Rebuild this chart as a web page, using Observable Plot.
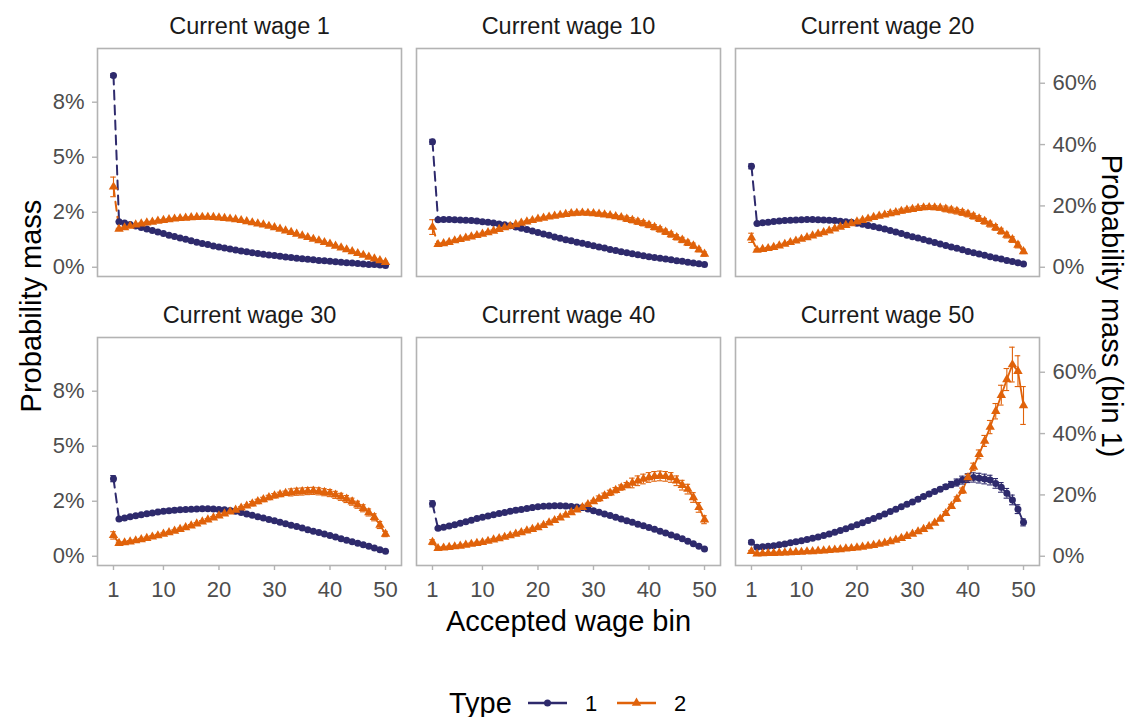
<!DOCTYPE html>
<html>
<head>
<meta charset="utf-8">
<script src="https://cdn.jsdelivr.net/npm/d3@7"></script>
<script src="https://cdn.jsdelivr.net/npm/@observablehq/plot@0.6"></script>
<style>
  body { margin: 0; background: #ffffff; }
  #chart svg { display: block; }
</style>
</head>
<body>
<div id="chart"></div>
<script>
// Transition probabilities (percent) by accepted wage bin 1..50.
// The first entry of each array is bin 1, which is read on the right-hand axis.
const currentWages = [1, 10, 20, 30, 40, 50];
const types = ["1", "2"];

const wage1_type1 = [62.5, 2.07,2.01,1.94,1.88,1.81,1.74,1.67,1.60,1.53, 1.46,1.40,1.33,1.27,1.20,1.14,1.08,1.03,0.97,0.92, 0.87,0.83,0.78,0.74,0.70,0.66,0.63,0.59,0.56,0.53, 0.50,0.47,0.44,0.41,0.39,0.36,0.34,0.31,0.29,0.27, 0.25,0.23,0.21,0.19,0.17,0.15,0.13,0.12,0.10,0.08];
const wage1_type2 = [26.2, 1.74,1.80,1.87,1.93,1.98,2.02,2.06,2.10,2.14, 2.17,2.20,2.22,2.24,2.26,2.27,2.28,2.28,2.27,2.25, 2.23,2.20,2.17,2.13,2.08,2.03,1.98,1.93,1.87,1.81, 1.74,1.66,1.59,1.51,1.43,1.36,1.28,1.21,1.13,1.06, 0.97,0.89,0.80,0.72,0.63,0.55,0.47,0.39,0.31,0.23];
const wage10_type1 = [40.9, 2.16,2.17,2.17,2.16,2.15,2.14,2.12,2.10,2.07, 2.04,2.01,1.97,1.93,1.89,1.83,1.77,1.71,1.65,1.58, 1.51,1.45,1.38,1.32,1.25,1.20,1.14,1.09,1.03,0.98, 0.92,0.87,0.81,0.76,0.71,0.66,0.61,0.57,0.52,0.48, 0.44,0.41,0.37,0.34,0.30,0.27,0.23,0.19,0.16,0.12];
const wage10_type2 = [13.1, 1.04,1.08,1.14,1.21,1.27,1.33,1.39,1.45,1.51, 1.58,1.65,1.73,1.80,1.87,1.94,2.01,2.07,2.13,2.19, 2.24,2.29,2.33,2.37,2.41,2.44,2.46,2.47,2.46,2.44, 2.42,2.39,2.35,2.31,2.26,2.20,2.14,2.07,2.00,1.92, 1.82,1.72,1.61,1.49,1.36,1.24,1.11,0.98,0.80,0.60];
const wage20_type1 = [32.9, 1.99,2.02,2.05,2.08,2.10,2.12,2.14,2.15,2.16, 2.17,2.17,2.16,2.15,2.14,2.12,2.09,2.07,2.04,2.00, 1.95,1.90,1.85,1.80,1.74,1.67,1.60,1.53,1.46,1.39, 1.33,1.26,1.19,1.13,1.06,0.99,0.92,0.86,0.79,0.72, 0.66,0.60,0.54,0.48,0.42,0.37,0.31,0.26,0.20,0.15];
const wage20_type2 = [9.6, 0.78,0.82,0.86,0.91,0.98,1.05,1.13,1.20,1.28, 1.35,1.43,1.51,1.58,1.66,1.75,1.83,1.91,1.99,2.07, 2.14,2.20,2.27,2.33,2.38,2.44,2.49,2.55,2.60,2.64, 2.68,2.71,2.72,2.71,2.69,2.65,2.60,2.55,2.49,2.42, 2.32,2.21,2.09,1.96,1.81,1.64,1.46,1.26,1.01,0.72];
const wage30_type1 = [25.3, 1.69,1.74,1.79,1.84,1.89,1.93,1.97,2.01,2.04, 2.07,2.09,2.11,2.13,2.14,2.15,2.16,2.16,2.15,2.13, 2.11,2.08,2.05,1.99,1.92,1.86,1.80,1.74,1.67,1.61, 1.54,1.48,1.41,1.35,1.28,1.21,1.14,1.08,1.01,0.94, 0.87,0.80,0.73,0.66,0.59,0.52,0.45,0.38,0.30,0.23];
const wage30_type2 = [6.8, 0.59,0.62,0.66,0.71,0.76,0.82,0.88,0.94,1.01, 1.08,1.15,1.23,1.31,1.39,1.48,1.57,1.66,1.75,1.84, 1.93,2.02,2.10,2.20,2.29,2.39,2.49,2.58,2.67,2.75, 2.81,2.86,2.90,2.93,2.94,2.96,2.97,2.95,2.91,2.87, 2.79,2.70,2.60,2.48,2.34,2.18,1.99,1.77,1.42,1.01];
const wage40_type1 = [17.1, 1.27,1.32,1.38,1.43,1.50,1.57,1.64,1.71,1.77, 1.83,1.89,1.94,1.99,2.04,2.09,2.13,2.17,2.21,2.25, 2.27,2.28,2.29,2.29,2.28,2.26,2.24,2.21,2.15,2.07, 2.00,1.92,1.85,1.77,1.69,1.61,1.54,1.46,1.39,1.31, 1.23,1.14,1.06,0.97,0.89,0.79,0.68,0.57,0.45,0.33];
const wage40_type2 = [4.6, 0.36,0.38,0.41,0.44,0.47,0.51,0.55,0.59,0.63, 0.69,0.75,0.81,0.87,0.94,1.01,1.08,1.16,1.23,1.31, 1.41,1.52,1.63,1.75,1.87,1.99,2.11,2.22,2.36,2.49, 2.62,2.75,2.88,3.00,3.12,3.23,3.33,3.43,3.51,3.58, 3.63,3.65,3.63,3.58,3.43,3.23,3.05,2.67,2.22,1.66];
const wage50_type1 = [4.6, 0.41,0.43,0.45,0.48,0.52,0.56,0.61,0.66,0.71, 0.76,0.82,0.88,0.94,1.01,1.09,1.17,1.25,1.34,1.43, 1.52,1.62,1.72,1.82,1.92,2.03,2.14,2.25,2.36,2.47, 2.59,2.71,2.83,2.94,3.05,3.16,3.26,3.35,3.46,3.55, 3.58,3.55,3.51,3.46,3.31,3.13,2.86,2.56,2.14,1.54];
const wage50_type2 = [1.6, 0.11,0.12,0.13,0.14,0.15,0.16,0.17,0.18,0.19, 0.21,0.22,0.24,0.25,0.27,0.29,0.31,0.34,0.36,0.39, 0.42,0.46,0.50,0.55,0.60,0.67,0.74,0.82,0.91,1.01, 1.12,1.23,1.35,1.51,1.69,1.95,2.27,2.60,2.98,3.58, 4.06,4.63,5.24,5.87,6.59,7.32,8.03,8.71,8.41,6.85];

// Standard errors (percent), same layout as above
const wage1_type1_se = [0.6, 0.02,0.02,0.02,0.02,0.02,0.02,0.02,0.02,0.02, 0.02,0.02,0.02,0.02,0.02,0.02,0.02,0.02,0.02,0.02, 0.02,0.02,0.02,0.02,0.02,0.02,0.02,0.02,0.02,0.02, 0.02,0.02,0.02,0.02,0.02,0.02,0.02,0.02,0.02,0.02, 0.02,0.02,0.02,0.02,0.02,0.02,0.02,0.02,0.02,0.02];
const wage1_type2_se = [3.2, 0.03,0.03,0.03,0.03,0.03,0.03,0.03,0.03,0.03, 0.03,0.03,0.03,0.03,0.03,0.03,0.03,0.03,0.03,0.03, 0.03,0.03,0.03,0.03,0.03,0.05,0.05,0.05,0.05,0.05, 0.05,0.05,0.05,0.05,0.05,0.05,0.05,0.05,0.05,0.05, 0.05,0.05,0.05,0.05,0.05,0.05,0.05,0.05,0.05,0.05];
const wage10_type1_se = [0.8, 0.02,0.02,0.02,0.02,0.02,0.02,0.02,0.02,0.02, 0.02,0.02,0.02,0.02,0.02,0.02,0.02,0.02,0.02,0.02, 0.02,0.02,0.02,0.02,0.02,0.02,0.02,0.02,0.02,0.02, 0.03,0.03,0.03,0.03,0.03,0.03,0.03,0.03,0.03,0.03, 0.03,0.03,0.03,0.03,0.03,0.03,0.03,0.03,0.03,0.03];
const wage10_type2_se = [2.4, 0.04,0.04,0.04,0.04,0.04,0.04,0.04,0.04,0.04, 0.04,0.04,0.04,0.04,0.04,0.04,0.04,0.04,0.04,0.04, 0.04,0.04,0.04,0.04,0.04,0.08,0.08,0.08,0.08,0.08, 0.08,0.08,0.08,0.08,0.08,0.12,0.12,0.12,0.12,0.12, 0.12,0.12,0.12,0.12,0.12,0.12,0.12,0.12,0.10,0.10];
const wage20_type1_se = [0.8, 0.03,0.03,0.03,0.03,0.03,0.03,0.03,0.03,0.03, 0.03,0.03,0.03,0.03,0.03,0.03,0.03,0.03,0.03,0.03, 0.03,0.03,0.03,0.03,0.03,0.03,0.03,0.03,0.03,0.03, 0.03,0.03,0.03,0.03,0.03,0.03,0.03,0.03,0.03,0.03, 0.03,0.03,0.03,0.03,0.03,0.03,0.03,0.03,0.03,0.03];
const wage20_type2_se = [1.5, 0.04,0.04,0.04,0.04,0.04,0.04,0.04,0.04,0.04, 0.04,0.04,0.04,0.04,0.04,0.04,0.04,0.04,0.04,0.04, 0.04,0.04,0.04,0.04,0.04,0.09,0.09,0.09,0.09,0.09, 0.09,0.09,0.09,0.09,0.09,0.13,0.13,0.13,0.13,0.13, 0.13,0.13,0.13,0.13,0.13,0.13,0.13,0.13,0.13,0.10];
const wage30_type1_se = [1.0, 0.03,0.03,0.03,0.03,0.03,0.03,0.03,0.03,0.03, 0.03,0.03,0.03,0.03,0.03,0.03,0.03,0.03,0.03,0.03, 0.03,0.03,0.03,0.03,0.03,0.03,0.03,0.03,0.03,0.03, 0.03,0.03,0.03,0.03,0.03,0.03,0.03,0.03,0.03,0.03, 0.03,0.03,0.03,0.03,0.03,0.03,0.03,0.03,0.03,0.03];
const wage30_type2_se = [1.2, 0.05,0.05,0.05,0.05,0.05,0.05,0.05,0.05,0.05, 0.05,0.05,0.05,0.05,0.05,0.05,0.05,0.05,0.05,0.05, 0.05,0.05,0.05,0.05,0.05,0.10,0.10,0.10,0.10,0.10, 0.10,0.10,0.16,0.16,0.16,0.16,0.16,0.16,0.16,0.16, 0.16,0.16,0.16,0.16,0.16,0.16,0.16,0.16,0.16,0.12];
const wage40_type1_se = [1.0, 0.04,0.04,0.04,0.04,0.04,0.04,0.04,0.04,0.04, 0.04,0.04,0.04,0.04,0.04,0.04,0.04,0.04,0.04,0.04, 0.04,0.04,0.04,0.04,0.04,0.04,0.04,0.04,0.04,0.04, 0.04,0.04,0.04,0.04,0.04,0.04,0.04,0.04,0.04,0.04, 0.04,0.04,0.04,0.04,0.04,0.04,0.04,0.04,0.04,0.04];
const wage40_type2_se = [0.8, 0.05,0.05,0.05,0.05,0.05,0.05,0.05,0.05,0.05, 0.05,0.05,0.05,0.05,0.05,0.05,0.05,0.05,0.05,0.05, 0.05,0.05,0.05,0.05,0.05,0.05,0.05,0.05,0.05,0.05, 0.12,0.12,0.12,0.12,0.12,0.12,0.22,0.22,0.22,0.22, 0.22,0.22,0.22,0.22,0.22,0.22,0.22,0.22,0.22,0.18];
const wage50_type1_se = [0.6, 0.03,0.03,0.03,0.03,0.03,0.03,0.03,0.03,0.03, 0.03,0.03,0.03,0.03,0.03,0.03,0.03,0.03,0.03,0.03, 0.03,0.03,0.03,0.03,0.03,0.03,0.03,0.03,0.03,0.03, 0.08,0.08,0.08,0.08,0.08,0.10,0.14,0.16,0.18,0.20, 0.21,0.22,0.22,0.22,0.22,0.22,0.22,0.22,0.20,0.16];
const wage50_type2_se = [0.3, 0.04,0.04,0.04,0.04,0.04,0.04,0.04,0.04,0.04, 0.04,0.04,0.04,0.04,0.04,0.04,0.04,0.04,0.04,0.04, 0.04,0.04,0.04,0.04,0.04,0.04,0.04,0.04,0.04,0.04, 0.04,0.04,0.04,0.04,0.04,0.08,0.09,0.10,0.12,0.14, 0.17,0.20,0.25,0.30,0.35,0.45,0.50,0.79,0.70,0.86];

// Axis ticks and labels
const xTicks = [1, 10, 20, 30, 40, 50];
const leftTicks = [0, 0.025, 0.05, 0.075];
const leftTickLabels = ["0%", "2%", "5%", "8%"];
const rightTicks = [0, 0.2, 0.4, 0.6];
const rightTickLabels = ["0%", "20%", "40%", "60%"];

const typeColors = ["#2e2a6c", "#e0620a"];

const series = [
  [wage1_type1, wage1_type1_se, wage1_type2, wage1_type2_se],
  [wage10_type1, wage10_type1_se, wage10_type2, wage10_type2_se],
  [wage20_type1, wage20_type1_se, wage20_type2, wage20_type2_se],
  [wage30_type1, wage30_type1_se, wage30_type2, wage30_type2_se],
  [wage40_type1, wage40_type1_se, wage40_type2, wage40_type2_se],
  [wage50_type1, wage50_type1_se, wage50_type2, wage50_type2_se]
];

// Bin 1 is drawn on a secondary scale: its largest value lines up with the
// largest mass of the other bins.
const maxBin1 = d3.max(series, s => Math.max(s[0][0], s[2][0]));
const maxRest = d3.max(series, s => Math.max(d3.max(s[0].slice(1)), d3.max(s[2].slice(1))));
const K = maxBin1 / maxRest;

const panels = currentWages.map((w, i) => ({wage: w, col: i % 3, row: Math.floor(i / 3)}));

const rows = [];
series.forEach((s, p) => {
  const {col, row} = panels[p];
  [[s[0], s[1], "1"], [s[2], s[3], "2"]].forEach(([vals, ses, type]) => {
    vals.forEach((v, i) => {
      const bin = i + 1;
      const f = bin === 1 ? 1 / (100 * K) : 1 / 100;
      rows.push({col, row, type, bin, y: v * f, lo: (v - ses[i]) * f, hi: (v + ses[i]) * f});
    });
  });
});
const mainRows = rows.filter(d => d.bin >= 2);
const jumpRows = rows.filter(d => d.bin <= 2);

const font = "'Liberation Sans', Arial, Helvetica, sans-serif";
const tickGray = "#b3b3b3";
const labelGray = "#4d4d4d";
const rightTickValues = rightTicks.map(t => t / K);

const chart = Plot.plot({
  width: 1133,
  height: 717,
  marginTop: 47,
  marginBottom: 152,
  marginLeft: 97,
  marginRight: 93,
  style: {fontFamily: font, background: "#ffffff", overflow: "visible"},
  x: {domain: [-1.88, 52.88]},
  y: {domain: [-0.0042, 0.0994]},
  fx: {domain: [0, 1, 2], paddingInner: 0.047, paddingOuter: 0, axis: null},
  fy: {domain: [0, 1], paddingInner: 0.2117, paddingOuter: 0, axis: null},
  color: {domain: types, range: typeColors},
  symbol: {domain: types, range: ["circle", "triangle"]},
  marks: [
    Plot.frame({stroke: tickGray, strokeWidth: 1.6}),
    Plot.axisX({anchor: "bottom", ticks: xTicks, tickFormat: d => String(d), tickSize: 5, tickPadding: 11,
      fontSize: 22, color: labelGray, stroke: tickGray, strokeWidth: 1.4, label: null}),
    Plot.axisY({anchor: "left", ticks: leftTicks, tickFormat: d => leftTickLabels[leftTicks.indexOf(d)],
      tickSize: 5, tickPadding: 8, fontSize: 22, color: labelGray, stroke: tickGray, strokeWidth: 1.4, label: null}),
    Plot.axisY({anchor: "right", ticks: rightTickValues, tickFormat: d => rightTickLabels[rightTickValues.indexOf(d)],
      tickSize: 5, tickPadding: 8, fontSize: 22, color: labelGray, stroke: tickGray, strokeWidth: 1.4, label: null}),
    Plot.text(panels, {fx: "col", fy: "row", frameAnchor: "top", lineAnchor: "middle", dy: -22,
      text: d => `Current wage ${d.wage}`, fontSize: 23.5, fill: "#1a1a1a"}),
    Plot.line(mainRows, {fx: "col", fy: "row", x: "bin", y: "y", z: "type", stroke: "type", strokeWidth: 1.8}),
    Plot.line(jumpRows, {fx: "col", fy: "row", x: "bin", y: "y", z: "type", stroke: "type", strokeWidth: 2, strokeDasharray: "9,6"}),
    Plot.ruleX(rows, {fx: "col", fy: "row", x: "bin", y1: "lo", y2: "hi", stroke: "type", strokeWidth: 1.1}),
    Plot.ruleY(rows, {fx: "col", fy: "row", y: "lo", x1: d => d.bin - 0.5, x2: d => d.bin + 0.5, stroke: "type", strokeWidth: 1.1}),
    Plot.ruleY(rows, {fx: "col", fy: "row", y: "hi", x1: d => d.bin - 0.5, x2: d => d.bin + 0.5, stroke: "type", strokeWidth: 1.1}),
    Plot.dot(rows, {fx: "col", fy: "row", x: "bin", y: "y", fill: "type", symbol: "type", r: 3.5, stroke: "none"})
  ]
});

document.getElementById("chart").appendChild(chart);

// Axis titles and the legend
const svg = d3.select(chart);
const titleSize = 29;
svg.append("text")
  .attr("x", 568.5).attr("y", 621).attr("dy", "0.35em")
  .attr("text-anchor", "middle").attr("font-family", font).attr("font-size", titleSize).attr("fill", "#000")
  .text("Accepted wage bin");
svg.append("text")
  .attr("transform", "translate(31,306) rotate(-90)").attr("dy", "0.35em")
  .attr("text-anchor", "middle").attr("font-family", font).attr("font-size", titleSize).attr("fill", "#000")
  .text("Probability mass");
svg.append("text")
  .attr("transform", "translate(1112,306) rotate(90)").attr("dy", "0.35em")
  .attr("text-anchor", "middle").attr("font-family", font).attr("font-size", titleSize).attr("fill", "#000")
  .text("Probability mass (bin 1)");

const colorScale = chart.scale("color");
const legend = svg.append("g").attr("font-family", font).attr("text-anchor", "start");
const ly = 703;
legend.append("text").attr("x", 449).attr("y", ly).attr("dy", "0.35em")
  .attr("font-size", titleSize).attr("fill", "#000").text("Type");
const keys = [
  {type: "1", x0: 528, label: 585, shape: d3.symbolCircle},
  {type: "2", x0: 617, label: 674, shape: d3.symbolTriangle}
];
keys.forEach(k => {
  const c = colorScale.apply(k.type);
  legend.append("line").attr("x1", k.x0).attr("x2", k.x0 + 39).attr("y1", ly).attr("y2", ly)
    .attr("stroke", c).attr("stroke-width", 2.4);
  legend.append("path").attr("d", d3.symbol(k.shape, Math.PI * 3.5 * 3.5)())
    .attr("transform", `translate(${k.x0 + 19.5},${ly})`).attr("fill", c);
  legend.append("text").attr("x", k.label).attr("y", ly).attr("dy", "0.35em")
    .attr("font-size", 22).attr("fill", "#000").text(k.type);
});
</script>
</body>
</html>
